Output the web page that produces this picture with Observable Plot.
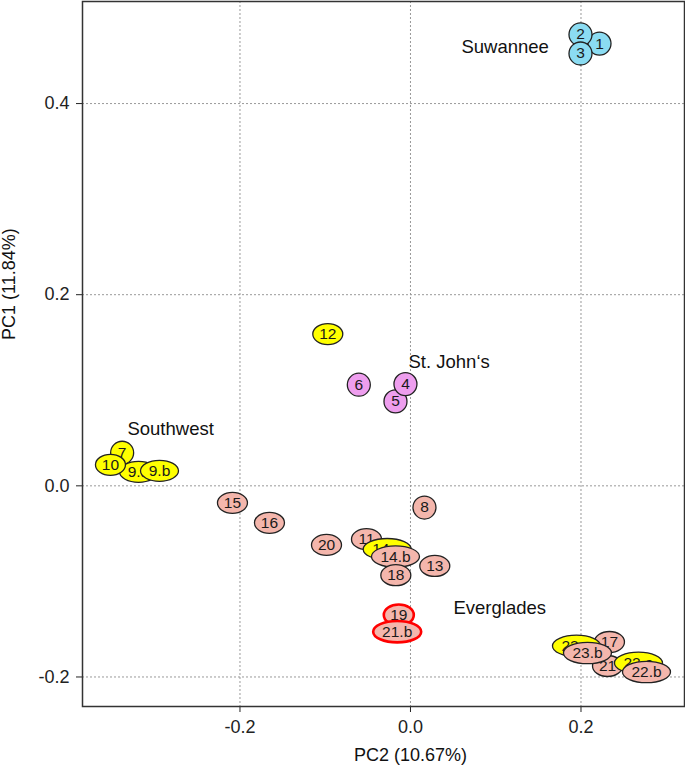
<!DOCTYPE html>
<html>
<head>
<meta charset="utf-8">
<script src="https://cdn.jsdelivr.net/npm/d3@7"></script>
<script src="https://cdn.jsdelivr.net/npm/@observablehq/plot@0.6"></script>
<style>
  html, body { margin: 0; padding: 0; background: #fff; }
  #chart svg { display: block; }
</style>
</head>
<body>
<div id="chart"></div>
<script>
// ---- data (draw order = array order) ----
const labels = ["1","2","3","12","5","4","6","7","9.a","10","9.b","15","16","20","8","11","14.a","14.b","18","13","19","21.b","17","21","23.a","23.b","22.a","22.b"];
const pc2 = [0.2217,0.1994,0.1994,-0.0970,-0.0176,-0.0059,-0.0606,-0.3382,-0.3190,-0.3519,-0.2944,-0.2088,-0.1654,-0.0985,0.0164,-0.0516,-0.0273,-0.0176,-0.0172,0.0285,-0.0137,-0.0156,0.2334,0.2311,0.1947,0.2076,0.2674,0.2768];
const pc1 = [0.4628,0.4723,0.4524,0.1588,0.0883,0.1065,0.1058,0.0346,0.0147,0.0220,0.0157,-0.0178,-0.0387,-0.0618,-0.0227,-0.0558,-0.0663,-0.0740,-0.0935,-0.0838,-0.1351,-0.1526,-0.1634,-0.1885,-0.1675,-0.1749,-0.1853,-0.1948];
const groups = ["Suwannee","Suwannee","Suwannee","Southwest","St. John's","St. John's","St. John's","Southwest","Southwest","Southwest","Southwest","Everglades","Everglades","Everglades","Everglades","Everglades","Southwest","Everglades","Everglades","Everglades","Everglades","Everglades","Everglades","Everglades","Southwest","Everglades","Southwest","Everglades"];
const highlighted = ["19","21.b"];

const regionNames = ["Suwannee","St. John‘s","Southwest","Everglades"];
const regionX = [0.0598,-0.0023,-0.3320,0.0504];
const regionY = [0.4586,0.1298,0.0597,-0.1277];

const groupDomain = ["Suwannee","St. John's","Southwest","Everglades"];
const groupColors = ["#8BDCF2","#EE9EEE","#FFFF00","#F4B6AC"];

const xTicks = [-0.2, 0, 0.2];
const yTicks = [-0.2, 0, 0.2, 0.4];
const xTitle = "PC2 (10.67%)";
const yTitle = "PC1 (11.84%)";

// ---- ellipse symbol (custom d3 symbol type) ----
function ellipseSymbol(k) {
  return {
    draw(ctx, size) {
      const ry = Math.sqrt(size / Math.PI), rx = ry * k, c = 0.5523;
      ctx.moveTo(rx, 0);
      ctx.bezierCurveTo(rx, c * ry, c * rx, ry, 0, ry);
      ctx.bezierCurveTo(-c * rx, ry, -rx, c * ry, -rx, 0);
      ctx.bezierCurveTo(-rx, -c * ry, -c * rx, -ry, 0, -ry);
      ctx.bezierCurveTo(c * rx, -ry, rx, -c * ry, rx, 0);
      ctx.closePath();
    }
  };
}
function shapeFor(label) {
  const n = label.length;
  if (n === 1) return {ry: 11.5, k: 1};
  if (n === 2) return {ry: 10.5, k: 15 / 10.5};
  if (n === 3) return {ry: 10.5, k: 19 / 10.5};
  return {ry: 10.7, k: 24 / 10.7};
}

const points = labels.map((label, i) => ({label, pc2: pc2[i], pc1: pc1[i], group: groups[i]}));

const pointMarks = points.flatMap(p => {
  const s = shapeFor(p.label);
  const hi = highlighted.includes(p.label);
  return [
    Plot.dot([p], {x: "pc2", y: "pc1", fill: "group", r: s.ry, symbol: ellipseSymbol(s.k),
      stroke: hi ? "#FF0000" : "#222", strokeWidth: hi ? 2.6 : 1.3}),
    Plot.text([p], {x: "pc2", y: "pc1", text: "label", fontSize: 15.5, fill: "#1a1a1a"})
  ];
});

const regions = regionNames.map((name, i) => ({name, x: regionX[i], y: regionY[i]}));

const chart = Plot.plot({
  width: 685,
  height: 771,
  marginLeft: 82,
  marginRight: 1,
  marginTop: 1,
  marginBottom: 65,
  style: {fontFamily: "'Liberation Sans', Arial, sans-serif", fontSize: "18px", color: "#222", background: "#fff"},
  x: {domain: [-0.3847, 0.3214], ticks: xTicks, tickFormat: d => d.toFixed(1), tickSize: 6, tickPadding: 8, label: null},
  y: {domain: [-0.2309, 0.5068], ticks: yTicks, tickFormat: d => d.toFixed(1), tickSize: 6, tickPadding: 7, label: null},
  color: {domain: groupDomain, range: groupColors},
  marks: [
    Plot.ruleX(xTicks, {stroke: "#999", strokeWidth: 1, strokeDasharray: "2,2"}),
    Plot.ruleY(yTicks, {stroke: "#999", strokeWidth: 1, strokeDasharray: "2,2"}),
    Plot.frame({stroke: "#333", strokeWidth: 1.5}),
    ...pointMarks,
    Plot.text(regions, {x: "x", y: "y", text: "name", textAnchor: "start", fontSize: 18.5, fill: "#111"}),
    Plot.text([xTitle], {frameAnchor: "bottom", text: d => d, dx: 27, dy: 54, fontSize: 18, fill: "#111"}),
    Plot.text([yTitle], {frameAnchor: "left", text: d => d, rotate: -90, dx: -73, dy: -14, fontSize: 18, fill: "#111"})
  ]
});
document.getElementById("chart").appendChild(chart);
</script>
</body>
</html>
